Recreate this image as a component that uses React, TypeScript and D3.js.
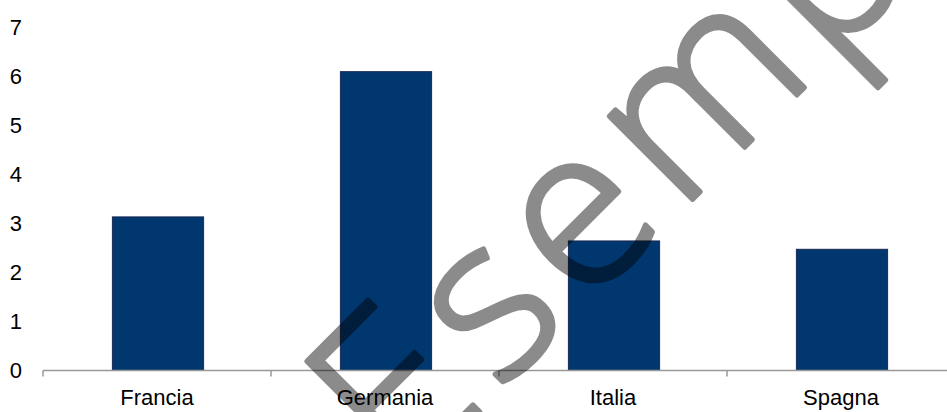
import React from "react";
import * as d3 from "d3";

const categories = ["Francia", "Germania", "Italia", "Spagna"];
const values = [3.13, 6.09, 2.64, 2.47];
const yTicks = [0, 1, 2, 3, 4, 5, 6, 7];
const watermark = "Esempio";

const W = 947;
const H = 412;

export default function App() {
  const x = d3.scaleBand<string>().domain(categories).range([44, 956]).paddingInner(0.6).paddingOuter(0.3);
  const xb = d3.scaleBand<string>().domain(categories).range([43, 955]).padding(0);
  const y = d3.scaleLinear().domain([0, 7]).range([370.5, 27]);
  const font = "'Liberation Sans', Arial, sans-serif";
  const boundaries = categories.map((c) => xb(c) as number).concat([xb.range()[1]]);

  return (
    <div style={{ position: "fixed", left: 0, top: 0 }}>
      <svg width={W} height={H} style={{ display: "block", background: "#fff" }}>
        {yTicks.map((t) => (
          <text key={t} x={22} y={y(t)} dy="0.35em" textAnchor="end" fontFamily={font} fontSize={22} fill="#000">
            {t}
          </text>
        ))}
        {categories.map((c, i) => (
          <rect
            key={c}
            x={x(c)}
            y={y(values[i])}
            width={x.bandwidth()}
            height={y(0) - y(values[i])}
            fill="#00376f"
            stroke="#1a2a55"
            strokeWidth={1}
          />
        ))}
        <line x1={43} x2={955} y1={y(0)} y2={y(0)} stroke="#999" strokeWidth={1.5} />
        {boundaries.map((b, i) => (
          <line key={i} x1={b} x2={b} y1={y(0)} y2={y(0) + 6} stroke="#999" strokeWidth={1.5} />
        ))}
        {categories.map((c) => (
          <text key={c} x={(xb(c) as number) + xb.bandwidth() / 2} y={397} dy="0.35em" textAnchor="middle" fontFamily={font} fontSize={22} fill="#000">
            {c}
          </text>
        ))}
        <g opacity={0.45}>
          <text
            transform="translate(403,489) rotate(-45)"
            fontFamily="'Open Sans', sans-serif"
            fontWeight={300}
            fontSize={222}
            letterSpacing={14}
            fill="#000"
            stroke="#000"
            strokeWidth={5}
            strokeLinejoin="round"
          >
            {watermark}
          </text>
        </g>
      </svg>
    </div>
  );
}
